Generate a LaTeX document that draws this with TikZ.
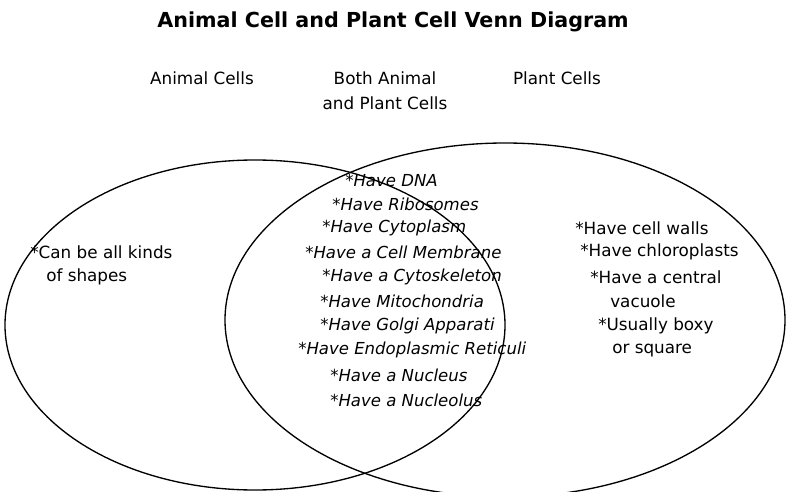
\documentclass[tikz,border=0pt]{standalone}
\usepackage{fontspec}
\setmainfont{DejaVu Sans}
\begin{document}
\begin{tikzpicture}[x=0.75pt,y=-0.75pt,
  txt/.style={anchor=west,inner sep=0pt,font=\fontsize{12.6}{14}\selectfont},
  itx/.style={txt,font=\fontsize{12.4}{14}\selectfont\itshape},
  hd/.style={inner sep=0pt,font=\fontsize{12.6}{14}\selectfont}]
\useasboundingbox (0,0) rectangle (790,492);
\draw[line width=1pt] (255,325) ellipse (250 and 165);
\draw[line width=1pt] (505,320) ellipse (280 and 177);
\node[hd,font=\fontsize{15.5}{17}\selectfont\bfseries] (title) at (393,22) {Animal Cell and Plant Cell Venn Diagram};
\node[hd] (ha) at (202,78) {Animal Cells};
\node[hd] (hb1) at (385,78) {Both Animal};
\node[hd] (hb2) at (385,103) {and Plant Cells};
\node[hd] (hp) at (557,78) {Plant Cells};
\node[txt] (a1) at (30,252) {*Can be all kinds};
\node[txt] (a2) at (46,277) {of shapes};
\node[itx] (b1) at (345,180) {*Have DNA};
\node[itx] (b2) at (332,204) {*Have Ribosomes};
\node[itx] (b3) at (322,228) {*Have Cytoplasm};
\node[itx] (b4) at (305,252) {*Have a Cell Membrane};
\node[itx] (b5) at (322,277) {*Have a Cytoskeleton};
\node[itx] (b6) at (320,301) {*Have Mitochondria};
\node[itx] (b7) at (320,326) {*Have Golgi Apparati};
\node[itx] (b8) at (298,350) {*Have Endoplasmic Reticuli};
\node[itx] (b9) at (330,375) {*Have a Nucleus};
\node[itx] (b10) at (330,400) {*Have a Nucleolus};
\node[txt] (p1) at (575,228) {*Have cell walls};
\node[txt] (p2) at (580,252) {*Have chloroplasts};
\node[txt] (p3) at (590,277) {*Have a central};
\node[txt] (p4) at (610,301) {vacuole};
\node[txt] (p5) at (598,326) {*Usually boxy};
\node[txt] (p6) at (612,351) {or square};
\end{tikzpicture}
\end{document}
